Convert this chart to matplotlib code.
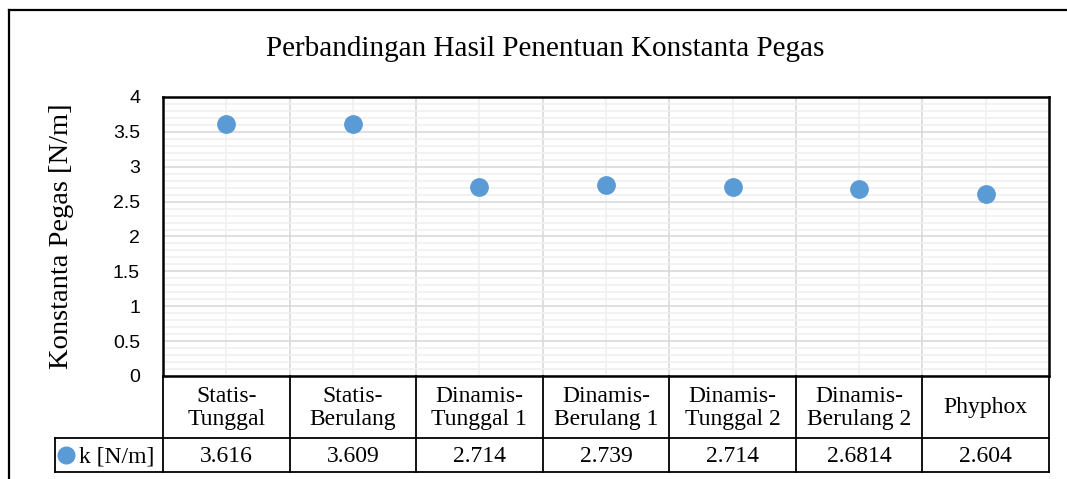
import matplotlib.pyplot as plt
from matplotlib.lines import Line2D

categories = ['Statis-\nTunggal', 'Statis-\nBerulang', 'Dinamis-\nTunggal 1', 'Dinamis-\nBerulang 1',
              'Dinamis-\nTunggal 2', 'Dinamis-\nBerulang 2', 'Phyphox']
k_values = [3.616, 3.609, 2.714, 2.739, 2.714, 2.6814, 2.604]
k_labels = ['3.616', '3.609', '2.714', '2.739', '2.714', '2.6814', '2.604']
y_ticks = [0, 0.5, 1, 1.5, 2, 2.5, 3, 3.5, 4]
y_ticklabels = ['0', '0.5', '1', '1.5', '2', '2.5', '3', '3.5', '4']
y_minor = [i / 10 for i in range(41)]
series_name = 'k [N/m]'
title = 'Perbandingan Hasil Penentuan Konstanta Pegas'
ylabel = 'Konstanta Pegas [N/m]'

W, H = 1067, 479
blue = '#5B9BD5'
serif = 'Liberation Serif'

fig = plt.figure(figsize=(W / 100, H / 100), dpi=100)


def fx(px):
    return px / W


def fy(py):
    return 1 - py / H


# outer chart frame (cut off on right and bottom)
fig.add_artist(Line2D([fx(9), fx(9)], [fy(10), fy(H + 5)], color='black', lw=1.6))
fig.add_artist(Line2D([fx(9), fx(W + 5)], [fy(10), fy(10)], color='black', lw=1.6))

left, right, top, bottom = 163, 1049, 97, 376
ax = fig.add_axes([fx(left), fy(bottom), fx(right - left), fy(top) - fy(bottom)])
x = list(range(len(categories)))
ax.plot(x, k_values, 'o', color=blue, markersize=12.5, zorder=5, clip_on=False)
ax.set_xlim(-0.5, len(categories) - 0.5)
ax.set_ylim(0, 4)
ax.set_yticks(y_ticks, y_ticklabels, family='Liberation Sans', fontsize=14)
ax.set_yticks(y_minor, minor=True)
ax.set_xticks([i + 0.5 for i in x[:-1]])
ax.set_xticks(x, minor=True)
ax.tick_params(axis='x', which='both', length=0, labelbottom=False)
ax.tick_params(axis='y', which='both', length=0)
ax.tick_params(axis='y', which='major', pad=16.5)
ax.grid(which='minor', color='#F0F0F0', lw=1.2)
ax.grid(which='major', color='#D9D9D9', lw=1.2)
ax.set_axisbelow(True)
for s in ax.spines.values():
    s.set_linewidth(1.8)
    s.set_color('black')

fig.text(fx(62), fy(236), ylabel, rotation=90, ha='center', va='center',
         fontsize=20.5, family=serif)
fig.text(fx(545), fy(49), title, ha='center', va='center', fontsize=21, family=serif)

# data table below the plot
row_mid = 438
row_bot = 472
lc = 'black'
lw = 1.3
for i in range(len(categories) + 1):
    xp = left + i * (right - left) / len(categories)
    fig.add_artist(Line2D([fx(xp), fx(xp)], [fy(bottom), fy(row_bot)], color=lc, lw=lw))
fig.add_artist(Line2D([fx(55), fx(55)], [fy(row_mid), fy(row_bot)], color=lc, lw=lw))
for yp in (row_mid, row_bot):
    fig.add_artist(Line2D([fx(55), fx(right)], [fy(yp), fy(yp)], color=lc, lw=lw))

cw = (right - left) / len(categories)
for i, (cat, lab) in enumerate(zip(categories, k_labels)):
    cx = left + (i + 0.5) * cw
    fig.text(fx(cx), fy((bottom + row_mid) / 2 + 1), cat, ha='center', va='center',
             fontsize=17, family=serif, linespacing=1.1)
    fig.text(fx(cx), fy((row_mid + row_bot) / 2 + 2), lab, ha='center', va='center',
             fontsize=17, family=serif)

fig.add_artist(Line2D([fx(66)], [fy(455)], marker='o', color=blue, markersize=12, lw=0))
fig.text(fx(79), fy(457), series_name, ha='left', va='center', fontsize=17, family=serif)

fig.savefig('out.png', dpi=100)
